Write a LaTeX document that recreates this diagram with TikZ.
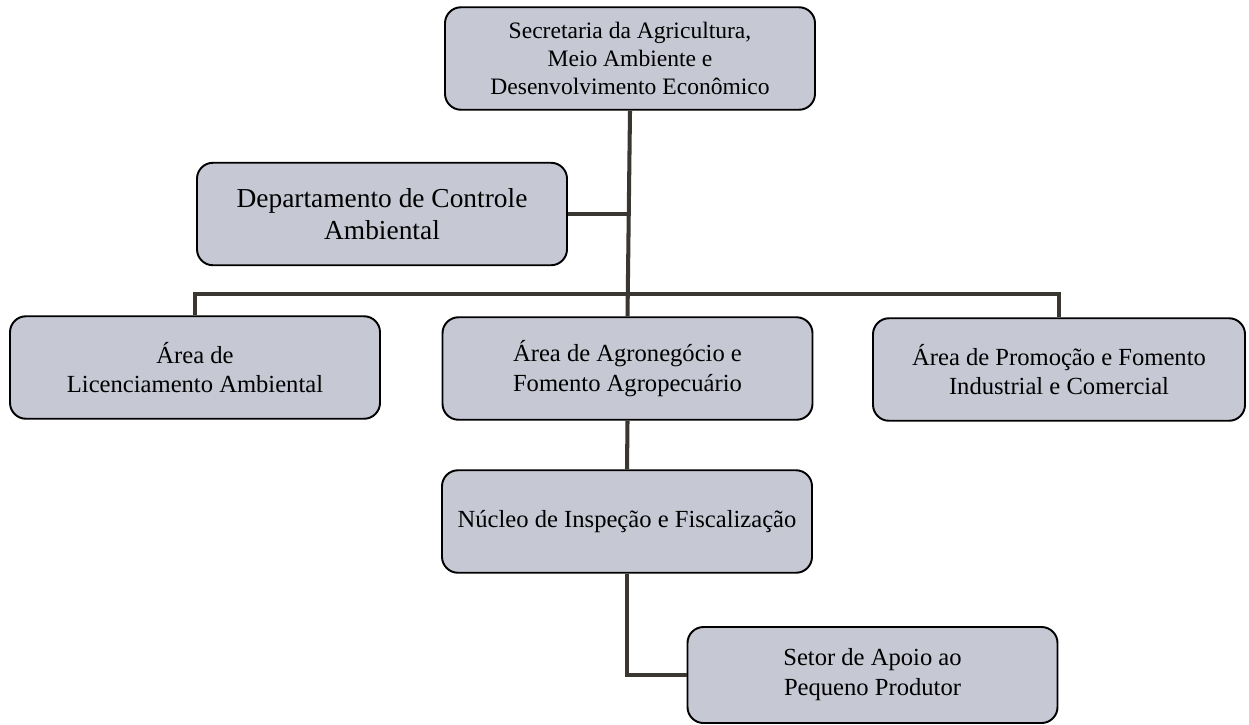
\documentclass[tikz,border=0pt]{standalone}
\usepackage{fontspec}
\setmainfont{Liberation Serif}
\usepackage{xcolor}
\usepackage{tikz}
\usetikzlibrary{positioning, calc}
\definecolor{boxgray}{RGB}{198, 200, 212}
\definecolor{linegray}{RGB}{58, 54, 50}
\tikzstyle{unit} = [rectangle, rounded corners=0.32cm, minimum width=7.4cm, minimum height=2.05cm, align=center, draw=black, line width=1.1pt, fill=boxgray, font=\fontsize{14}{17}\selectfont]
\tikzstyle{link} = [line width=2.3pt, draw=linegray]

\begin{document}
\begin{tikzpicture}
    \useasboundingbox (0, 0) rectangle (24.98, -14.48);

    % Secretaria
    \node[unit, font=\fontsize{13.4}{16}\selectfont] (sec) at (12.6, -1.17) {Secretaria da Agricultura,\\ Meio Ambiente e\\ Desenvolvimento Econômico};
    \node[unit, font=\fontsize{15.6}{18}\selectfont] (dept) at (7.64, -4.28) {Departamento de Controle\\ Ambiental};

    % Areas
    \node[unit] (lic) at (3.9, -7.35) {Área de\\ Licenciamento Ambiental};
    \node[unit] (agro) at (12.55, -7.37) {Área de Agronegócio e\\ Fomento Agropecuário};
    \node[unit, minimum width=7.44cm] (prom) at (21.18, -7.39) {Área de Promoção e Fomento\\ Industrial e Comercial};

    % Nucleo and Setor
    \node[unit] (nuc) at (12.54, -10.43) {Núcleo de Inspeção e Fiscalização};
    \node[unit, minimum height=1.92cm] (setor) at (17.45, -13.5) {Setor de Apoio ao\\ Pequeno Produtor};

    % Connectors
    \coordinate (bar) at (12.56, -5.88);
    \draw[link] (sec.south) -- (agro.north);
    \draw[link] (dept.east) -- (dept.east -| sec.south);
    \draw[link] (lic.north) |- (bar) -| (prom.north);
    \draw[link] (agro.south) -- (nuc.north);
    \draw[link] (nuc.south) |- (setor.west);
\end{tikzpicture}
\end{document}
